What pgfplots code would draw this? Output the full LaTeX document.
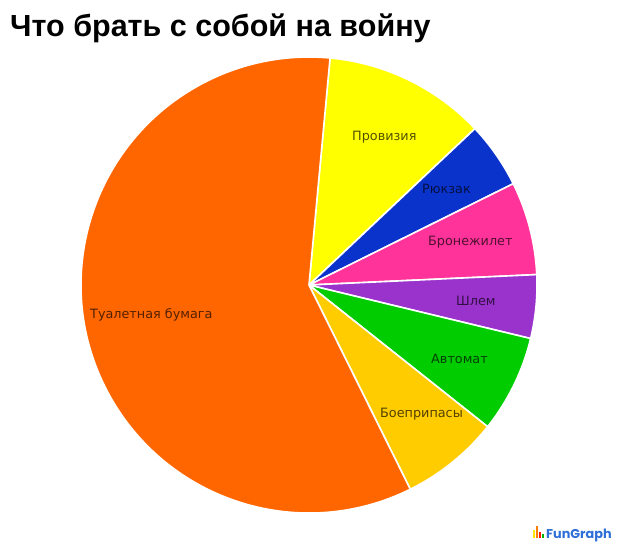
\documentclass[border=0pt]{standalone}
\usepackage{pgfplots}
\pgfplotsset{compat=1.18}
\usepackage{pgfplotstable}
\usepackage{fontspec}
\setmainfont{DejaVu Sans}
\newfontfamily\titlefont{Liberation Sans}
\newfontfamily\logofont{Poppins}
\definecolor{cProv}{HTML}{FFFF00}
\definecolor{cRuk}{HTML}{0A33CC}
\definecolor{cBron}{HTML}{FF3399}
\definecolor{cShlem}{HTML}{9933CC}
\definecolor{cAvt}{HTML}{00CC00}
\definecolor{cBoe}{HTML}{FFCC00}
\definecolor{cTual}{HTML}{FF6600}
\definecolor{logoblue}{HTML}{2E6FD8}

% slice values in percent, clockwise from the top
\pgfplotstableread{
value col
11.5 cProv
4.7  cRuk
6.6  cBron
4.5  cShlem
6.9  cAvt
7.0  cBoe
58.8 cTual
}\pietable

\begin{document}
\begin{tikzpicture}[x=1pt,y=1pt]
\path[use as bounding box] (0,0) rectangle (620,-547);
\begin{axis}[
  at={(309pt,-285pt)}, anchor=center,
  scale only axis, width=456pt, height=456pt,
  xmin=-1, xmax=1, ymin=-1, ymax=1,
  hide axis, clip=false,
]
\pgfplotstablegetrowsof{\pietable}
\pgfmathtruncatemacro\nrows{\pgfplotsretval-1}
\xdef\cur{84.7}
\pgfplotsforeachungrouped \i in {0,...,\nrows}{%
  \pgfplotstablegetelem{\i}{value}\of\pietable \let\v\pgfplotsretval
  \pgfplotstablegetelem{\i}{col}\of\pietable \let\c\pgfplotsretval
  \pgfmathsetmacro\nxt{\cur-\v*3.6}%
  \edef\doit{\noexpand\filldraw[fill=\c,draw=white,line width=1.6pt,line join=round] (axis cs:0,0) -- (axis cs:{cos(\cur)},{sin(\cur)}) arc[start angle=\cur,end angle=\nxt,radius=228pt] -- cycle;}%
  \doit
  \xdef\cur{\nxt}%
}
\end{axis}
\node[anchor=base west, font=\titlefont\bfseries\fontsize{30.5}{33}\selectfont, inner sep=0pt] at (10,-36) {Что брать с собой на войну};
\begin{scope}[every node/.style={anchor=west, inner sep=0pt, font=\fontsize{12.8}{14}\selectfont, text=black, text opacity=0.68}]
\node at (352,-137) {Провизия};
\node at (422,-189) {Рюкзак};
\node at (428,-242) {Бронежилет};
\node at (456,-301) {Шлем};
\node at (431,-359) {Автомат};
\node at (380,-414) {Боеприпасы};
\node at (90,-315) {Туалетная бумага};
\end{scope}
% logo
\fill[yellow!90!orange] (533,-538) rectangle (535,-530);
\fill[orange] (536,-538) rectangle (538,-526);
\fill[red!80!orange] (539,-538) rectangle (541,-532);
\fill[green!70!black] (542,-538) rectangle (544,-534);
\node[anchor=base west, inner sep=0pt, text=logoblue, font=\logofont\bfseries\fontsize{12.8}{14}\selectfont] at (546,-538) {FunGraph};
\end{tikzpicture}
\end{document}
